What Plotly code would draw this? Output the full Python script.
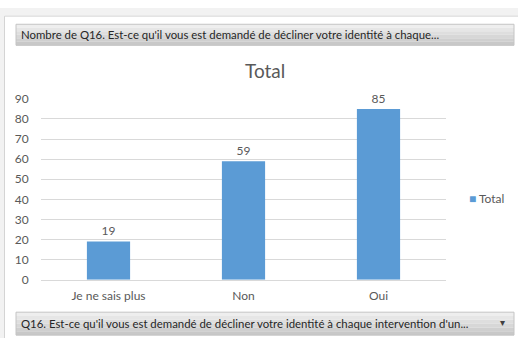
import plotly.graph_objects as go

categories = ["Je ne sais plus", "Non", "Oui"]
values = [19, 59, 85]
series_name = "Total"
y_ticks = [0, 10, 20, 30, 40, 50, 60, 70, 80, 90]
header_text = "Nombre de Q16. Est-ce qu'il vous est demandé de décliner votre identité à chaque..."
footer_text = "Q16. Est-ce qu'il vous est demandé de décliner votre identité à chaque intervention d'un..."

W, H = 518, 345
FONT = "Lato, 'Open Sans', sans-serif"
TXT = "#595959"
BAR = "#5B9BD5"

fig = go.Figure()
fig.add_trace(go.Bar(
    x=categories, y=values, name=series_name,
    marker=dict(color=BAR, line=dict(width=0)),
    width=0.32,
    text=[str(v) for v in values], textposition="outside",
    textfont=dict(size=12, color=TXT, family=FONT),
    cliponaxis=False, showlegend=False,
))


def px(x):
    return x / W


def py(y):
    return 1 - y / H


shapes = []
shapes.append(dict(type="rect", xref="paper", yref="paper", x0=0, x1=1, y0=py(8), y1=1,
                   fillcolor="#f2f2f2", line=dict(width=0), layer="below"))
shapes.append(dict(type="rect", xref="paper", yref="paper", x0=0, x1=px(4), y0=0, y1=1,
                   fillcolor="#f2f2f2", line=dict(width=0), layer="below"))
shapes.append(dict(type="line", xref="paper", yref="paper", x0=px(4.5), x1=1, y0=py(8.5), y1=py(8.5),
                   line=dict(color="#d4d4d4", width=1)))
shapes.append(dict(type="line", xref="paper", yref="paper", x0=px(4.5), x1=px(4.5), y0=0, y1=py(8.5),
                   line=dict(color="#d4d4d4", width=1)))


def bar_box(y0, y1, x0=16, x1=514):
    n = 6
    h = (y1 - y0) / n
    top = (238, 238, 238)
    bot = (200, 200, 200)
    for i in range(n):
        t = i / (n - 1)
        c = tuple(int(top[k] + (bot[k] - top[k]) * t) for k in range(3))
        shapes.append(dict(type="rect", xref="paper", yref="paper",
                           x0=px(x0), x1=px(x1), y0=py(y0 + h * (i + 1)), y1=py(y0 + h * i),
                           fillcolor="rgb(%d,%d,%d)" % c, line=dict(width=0), layer="below"))
    shapes.append(dict(type="rect", xref="paper", yref="paper",
                       x0=px(x0), x1=px(x1), y0=py(y1), y1=py(y0),
                       fillcolor="rgba(0,0,0,0)", line=dict(color="#c4c4c4", width=1)))


bar_box(17, 39)
bar_box(318, 342)

annotations = [
    dict(text=header_text, xref="paper", yref="paper", x=px(19), y=py(28), xanchor="left", yanchor="middle",
         showarrow=False, font=dict(size=11.4, color="#262626", family=FONT)),
    dict(text=footer_text, xref="paper", yref="paper", x=px(19), y=py(330), xanchor="left", yanchor="middle",
         showarrow=False, font=dict(size=11.4, color="#262626", family=FONT)),
    dict(text="▾", xref="paper", yref="paper", x=px(502), y=py(329), xanchor="center", yanchor="middle",
         showarrow=False, font=dict(size=10, color="#404040", family="DejaVu Sans")),
    dict(text="Total", xref="paper", yref="paper", x=px(265), y=py(65), xanchor="center", yanchor="middle",
         showarrow=False, font=dict(size=19, color=TXT, family=FONT)),
    dict(text="<span style='color:%s'>■</span> %s" % (BAR, series_name), xref="paper", yref="paper",
         x=px(467), y=py(199), xanchor="left", yanchor="middle",
         showarrow=False, font=dict(size=12, color=TXT, family=FONT)),
]

fig.update_layout(
    width=W, height=H,
    margin=dict(l=0, r=0, t=0, b=0),
    paper_bgcolor="white", plot_bgcolor="white",
    font=dict(family=FONT, color=TXT, size=12),
    showlegend=False,
    xaxis=dict(domain=[px(41), px(446)], showgrid=False, showline=True, linecolor="#d9d9d9",
               linewidth=1, tickfont=dict(size=12, color=TXT, family=FONT),
               ticks="outside", ticklen=5, tickcolor="rgba(0,0,0,0)"),
    yaxis=dict(domain=[py(284), py(95)], range=[0, 90], tickvals=y_ticks,
               showgrid=True, gridcolor="#d9d9d9", gridwidth=1, zeroline=False,
               showline=False, tickfont=dict(size=12, color=TXT, family=FONT),
               ticks="outside", ticklen=9, tickcolor="rgba(0,0,0,0)"),
    shapes=shapes,
    annotations=annotations,
)

fig.write_html("out.html")
